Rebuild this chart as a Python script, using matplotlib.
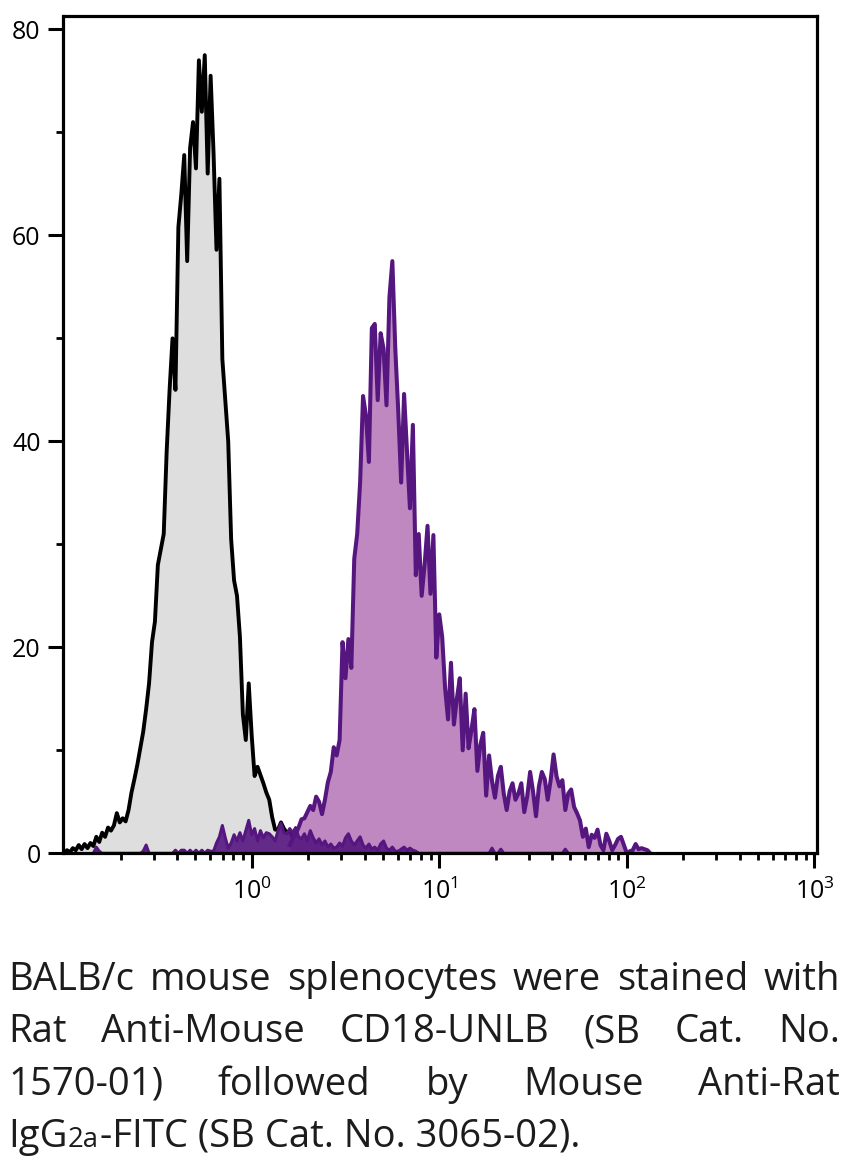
import numpy as np
import matplotlib
matplotlib.use("Agg")
import matplotlib.pyplot as plt
from matplotlib.ticker import FixedLocator, NullFormatter

FONT = "Open Sans"
plt.rcParams['font.family'] = [FONT, 'DejaVu Sans']
plt.rcParams['mathtext.fontset'] = 'custom'
plt.rcParams['mathtext.rm'] = FONT
plt.rcParams['mathtext.it'] = FONT + ':italic'
plt.rcParams['mathtext.bf'] = FONT + ':bold'

# ---------------- data ----------------
# histogram channels: 64 channels per decade, channel 0 = 10^-1
CH_PER_DECADE = 64
X_START_LOG = -1.0

control_start = 0
control_counts = [
    0, 0.3, 0.1, 0.5, 0.3, 0.8, 0.4, 0.9, 0.5, 1.0,
    0.7, 1.6, 1.1, 2.0, 1.6, 2.5, 2.2, 2.7, 3.9, 3.0,
    3.4, 3.1, 4.2, 5.9, 7.2, 8.6, 10.2, 11.8, 14.0, 16.5,
    20.5, 22.5, 28.0, 29.5, 31.0, 39.0, 45.0, 50.0, 45.0, 60.8,
    64.0, 67.8, 57.5, 68.5, 71.0, 66.5, 77.0, 72.0, 77.5, 66.0,
    75.5, 68.0, 58.6, 65.5, 48.0, 44.0, 40.0, 30.5, 26.5, 25.0,
    21.0, 13.5, 11.0, 16.5, 11.5, 7.5, 8.4, 7.6, 6.8, 5.9,
    5.2, 3.5, 2.3, 2.3, 3.0, 2.4, 2.0, 2.2, 1.5, 1.0,
    0.4, 0]

stained_start = 77
stained_counts = [
    0.8, 1.4, 1.9, 2.5, 3.3, 3.4, 4.0, 4.6, 4.2, 5.5,
    5.0, 3.8, 5.2, 6.9, 7.9, 10.3, 9.5, 11.0, 20.5, 17.0,
    20.8, 18.0, 28.6, 31.0, 36.0, 44.4, 42.5, 38.0, 51.0, 51.4,
    44.0, 50.5, 49.0, 43.5, 54.0, 57.5, 49.0, 43.0, 36.0, 44.6,
    39.0, 33.5, 41.6, 27.0, 31.0, 25.0, 28.0, 31.8, 25.2, 30.9,
    19.0, 23.2, 21.0, 16.0, 13.0, 18.5, 12.5, 15.0, 17.0, 10.0,
    15.5, 10.2, 12.0, 14.0, 8.0, 10.5, 11.7, 5.6, 9.5, 7.0,
    5.4, 7.5, 8.4, 5.8, 4.2, 6.0, 6.8, 5.2, 5.8, 6.8,
    4.0, 5.5, 7.9, 6.0, 3.6, 6.5, 7.9, 7.2, 5.2, 7.1,
    9.6, 7.5, 6.5, 7.1, 4.2, 5.8, 6.2, 4.5, 3.9, 3.2,
    1.6, 2.4, 0.6, 1.8, 1.5, 2.3, 0.8, 0.3, 1.9, 1.2,
    0.3, 0.8, 1.4, 1.6, 0.8, 0.0, 0.2, 0.3, 0.9, 0.4,
    0.5, 0.4, 0.3, 0.0]

low_start = 10
low_counts = [
    0, 0.6, 0.2, 0, 0, 0, 0, 0, 0, 0,
    0, 0, 0, 0, 0, 0, 0, 0.2, 0.8, 0,
    0, 0, 0, 0, 0, 0, 0, 0, 0.3, 0,
    0.3, 0.3, 0, 0.3, 0, 0.3, 0, 0.3, 0, 0.3,
    0.2, 0.2, 1.0, 1.6, 2.7, 1.5, 0.5, 1.0, 1.8, 1.2,
    2.0, 1.2, 2.2, 3.2, 1.8, 2.4, 1.2, 2.2, 1.5, 2.0,
    1.9, 1.6, 1.2, 2.2, 2.9, 2.0, 1.9, 2.4, 2.0, 2.5,
    1.6, 1.4, 1.9, 1.2, 2.2, 1.5, 1.0, 1.4, 0.8, 1.2,
    0.6, 0.9, 0.5, 0.6, 1.0, 0.7, 1.5, 1.9, 1.2, 0.8,
    1.2, 1.6, 0.8, 0.5, 0.9, 0.4, 0.6, 0.3, 0.9, 1.2,
    0.5, 0.3, 0.6, 0.2, 0.2, 0.4, 0.6, 0.3, 0.5, 0.3,
    0.2, 0, 0, 0, 0, 0, 0, 0, 0, 0,
    0, 0, 0, 0, 0, 0, 0, 0, 0, 0,
    0, 0, 0, 0, 0, 0, 0.5, 0, 0, 0.4,
    0, 0, 0, 0, 0, 0, 0, 0, 0, 0,
    0, 0, 0, 0, 0, 0, 0, 0, 0, 0,
    0, 0.4, 0]

x_major = [1, 10, 100, 1000]
x_major_labels = [r'$10^{0}$', r'$10^{1}$', r'$10^{2}$', r'$10^{3}$']
y_major = [0, 20, 40, 60, 80]
y_minor = [10, 30, 50, 70]

caption_lines = [
    "BALB/c mouse splenocytes were stained with",
    "Rat Anti-Mouse CD18-UNLB (SB Cat. No.",
    "1570-01) followed by Mouse Anti-Rat",
]
last_line_parts = [("IgG", 1.0), ("2a", 0.72), ("-FITC (SB Cat. No. 3065-02).", 1.0)]


def channel_x(start, n):
    return 10 ** (X_START_LOG + (start + np.arange(n)) / CH_PER_DECADE)


# ---------------- figure ----------------
W, H = 852, 1156
fig = plt.figure(figsize=(W / 100, H / 100), dpi=100)
ax = fig.add_axes([63.5 / W, (H - 853.3) / H, (816.7 - 63.5) / W, (853.3 - 16) / H])

GREY_FILL = '#DEDEDE'
PURPLE_FILL = '#BF88C0'
PURPLE_LINE = '#561680'
LOW_FILL = '#561680'

xc = channel_x(control_start, len(control_counts))
xs = channel_x(stained_start, len(stained_counts))
xl = channel_x(low_start, len(low_counts))

ax.fill_between(xc, control_counts, 0, color=GREY_FILL, lw=0, zorder=1)
ax.plot(xc, control_counts, color='black', lw=2.8, zorder=2)
ax.fill_between(xs, stained_counts, 0, color=PURPLE_FILL, lw=0, zorder=3)
ax.fill_between(xl, low_counts, 0, color=LOW_FILL, alpha=0.9, lw=0, zorder=4)
ax.plot(xs, stained_counts, color=PURPLE_LINE, lw=2.9, zorder=5)
ax.plot(xl, low_counts, color=PURPLE_LINE, lw=2.2, zorder=5)

ax.set_xscale('log')
ax.set_xlim(10 ** -1.003, 10 ** 3.012)
ax.set_ylim(0, 81.3)

ax.xaxis.set_major_locator(FixedLocator(x_major))
ax.set_xticklabels(x_major_labels)
minor_x = [m * 10 ** e for e in range(-1, 3) for m in range(2, 10)]
ax.xaxis.set_minor_locator(FixedLocator(minor_x))
ax.xaxis.set_minor_formatter(NullFormatter())
ax.yaxis.set_major_locator(FixedLocator(y_major))
ax.yaxis.set_minor_locator(FixedLocator(y_minor))

for s in ax.spines.values():
    s.set_linewidth(2.3)
    s.set_zorder(6)
ax.tick_params(which='major', direction='out', length=10.5, width=2.2,
               labelsize=18, pad=6, colors='black')
ax.tick_params(which='minor', direction='out', length=5, width=2.0)
ax.tick_params(axis='x', which='major', pad=8)

# ---------------- caption (justified) ----------------
CAP_SIZE = 27.5
CAP_COLOR = '#1c1c1c'
left_px, right_px = 8, 840
baselines = [990, 1042, 1095, 1147]
renderer = fig.canvas.get_renderer()


def text_width(s, size):
    t = fig.text(0, 0, s, fontsize=size)
    w = t.get_window_extent(renderer).width
    t.remove()
    return w


for line, base in zip(caption_lines, baselines[:3]):
    words = line.split(' ')
    widths = [text_width(w, CAP_SIZE) for w in words]
    gap = (right_px - left_px - sum(widths)) / (len(words) - 1)
    x = left_px
    for w, wd in zip(words, widths):
        fig.text(x / W, (H - base) / H, w, fontsize=CAP_SIZE, color=CAP_COLOR,
                 ha='left', va='baseline')
        x += wd + gap

x = left_px
for part, scale in last_line_parts:
    size = CAP_SIZE * scale
    fig.text(x / W, (H - baselines[3]) / H, part, fontsize=size, color=CAP_COLOR,
             ha='left', va='baseline')
    x += text_width(part, size) + (1.0 if scale < 1 else 0)

fig.savefig('out.png', dpi=100)
